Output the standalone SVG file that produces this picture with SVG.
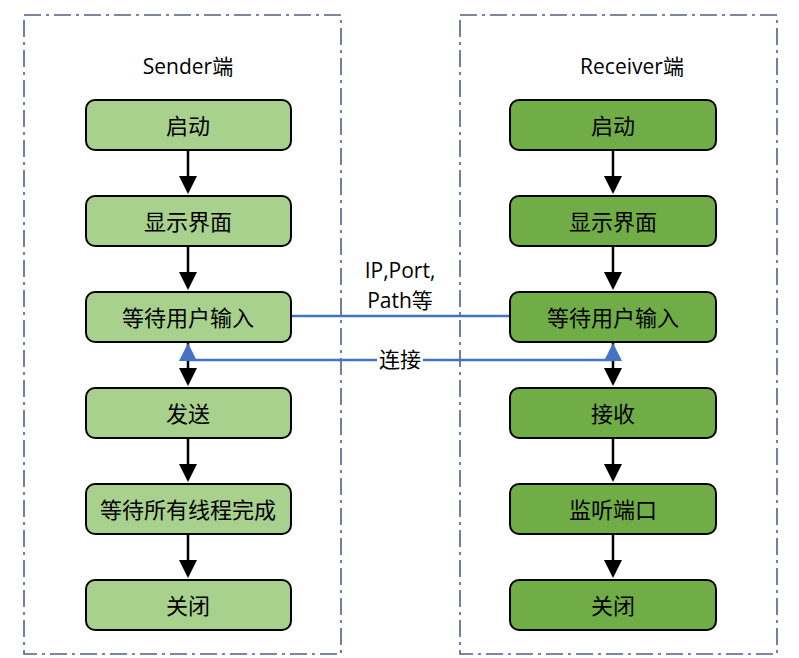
<svg xmlns="http://www.w3.org/2000/svg" width="799" height="658" viewBox="0 0 799 658">
<defs>
<style>
.frame{fill:none;stroke:#4F5F86;stroke-width:1.6;stroke-dasharray:17 5 3 5}
.ls rect{fill:#A9D18E;stroke:#000;stroke-width:2}
.rs rect{fill:#70AD47;stroke:#000;stroke-width:2}
text{font-family:"Open Sans","Noto Sans CJK SC",sans-serif;fill:#000;text-anchor:middle;dominant-baseline:central}
.t{font-size:22px}
.h{font-size:21px}
.lbl{font-size:21px}
.flow{stroke:#000;stroke-width:2.5;fill:none}
.blue{stroke:#4472C4;stroke-width:2.5;fill:none}
</style>
</defs>
<rect x="0" y="0" width="799" height="658" fill="#fff"/>
<g id="frames">
<rect class="frame" x="24" y="15" width="317" height="639"/>
<rect class="frame" x="460" y="15" width="317" height="639"/>
<text class="h" x="188" y="66">Sender端</text>
<text class="h" x="632" y="66">Receiver端</text>
</g>
<g id="connectors">
<g id="flow-left">
<line class="flow" x1="188" y1="151" x2="188" y2="177"/><path d="M179,176 L197,176 L188,194 z"/>
<line class="flow" x1="188" y1="247" x2="188" y2="273"/><path d="M179,272 L197,272 L188,290 z"/>
<line class="flow" x1="188" y1="342" x2="188" y2="369"/><path d="M179,368 L197,368 L188,386 z"/>
<line class="flow" x1="188" y1="438" x2="188" y2="465"/><path d="M179,464 L197,464 L188,482 z"/>
<line class="flow" x1="188" y1="534" x2="188" y2="561"/><path d="M179,560 L197,560 L188,578 z"/>
</g>
<g id="flow-right">
<line class="flow" x1="613" y1="151" x2="613" y2="177"/><path d="M604,176 L622,176 L613,194 z"/>
<line class="flow" x1="613" y1="247" x2="613" y2="273"/><path d="M604,272 L622,272 L613,290 z"/>
<line class="flow" x1="613" y1="342" x2="613" y2="369"/><path d="M604,368 L622,368 L613,386 z"/>
<line class="flow" x1="613" y1="438" x2="613" y2="465"/><path d="M604,464 L622,464 L613,482 z"/>
<line class="flow" x1="613" y1="534" x2="613" y2="561"/><path d="M604,560 L622,560 L613,578 z"/>
</g>
<g id="data-link">
<line class="blue" x1="291" y1="316" x2="510" y2="316"/>
<text class="lbl" x="400" y="270">IP,Port,</text>
<text class="lbl" x="400" y="300">Path等</text>
</g>
<g id="connect-link">
<line class="blue" x1="188" y1="360" x2="613" y2="360"/>
<path d="M179,361 L197,361 L188,343 z" fill="#4472C4"/>
<path d="M604,361 L622,361 L613,343 z" fill="#4472C4"/>
<rect x="377" y="348" width="46" height="24" fill="#fff"/>
<text class="lbl" x="400" y="359">连接</text>
</g>
</g>
<g id="sender" class="ls">
<g id="s1"><rect x="86" y="100" width="205" height="50" rx="9"/><text class="t" x="188" y="125">启动</text></g>
<g id="s2"><rect x="86" y="196" width="205" height="50" rx="9"/><text class="t" x="188" y="221">显示界面</text></g>
<g id="s3"><rect x="86" y="292" width="205" height="50" rx="9"/><text class="t" x="188" y="317">等待用户输入</text></g>
<g id="s4"><rect x="86" y="388" width="205" height="50" rx="9"/><text class="t" x="188" y="413">发送</text></g>
<g id="s5"><rect x="86" y="484" width="205" height="50" rx="9"/><text class="t" x="188" y="509">等待所有线程完成</text></g>
<g id="s6"><rect x="86" y="580" width="205" height="50" rx="9"/><text class="t" x="188" y="605">关闭</text></g>
</g>
<g id="receiver" class="rs">
<g id="r1"><rect x="510" y="100" width="206" height="50" rx="9"/><text class="t" x="613" y="125">启动</text></g>
<g id="r2"><rect x="510" y="196" width="206" height="50" rx="9"/><text class="t" x="613" y="221">显示界面</text></g>
<g id="r3"><rect x="510" y="292" width="206" height="50" rx="9"/><text class="t" x="613" y="317">等待用户输入</text></g>
<g id="r4"><rect x="510" y="388" width="206" height="50" rx="9"/><text class="t" x="613" y="413">接收</text></g>
<g id="r5"><rect x="510" y="484" width="206" height="50" rx="9"/><text class="t" x="613" y="509">监听端口</text></g>
<g id="r6"><rect x="510" y="580" width="206" height="50" rx="9"/><text class="t" x="613" y="605">关闭</text></g>
</g>
</svg>
